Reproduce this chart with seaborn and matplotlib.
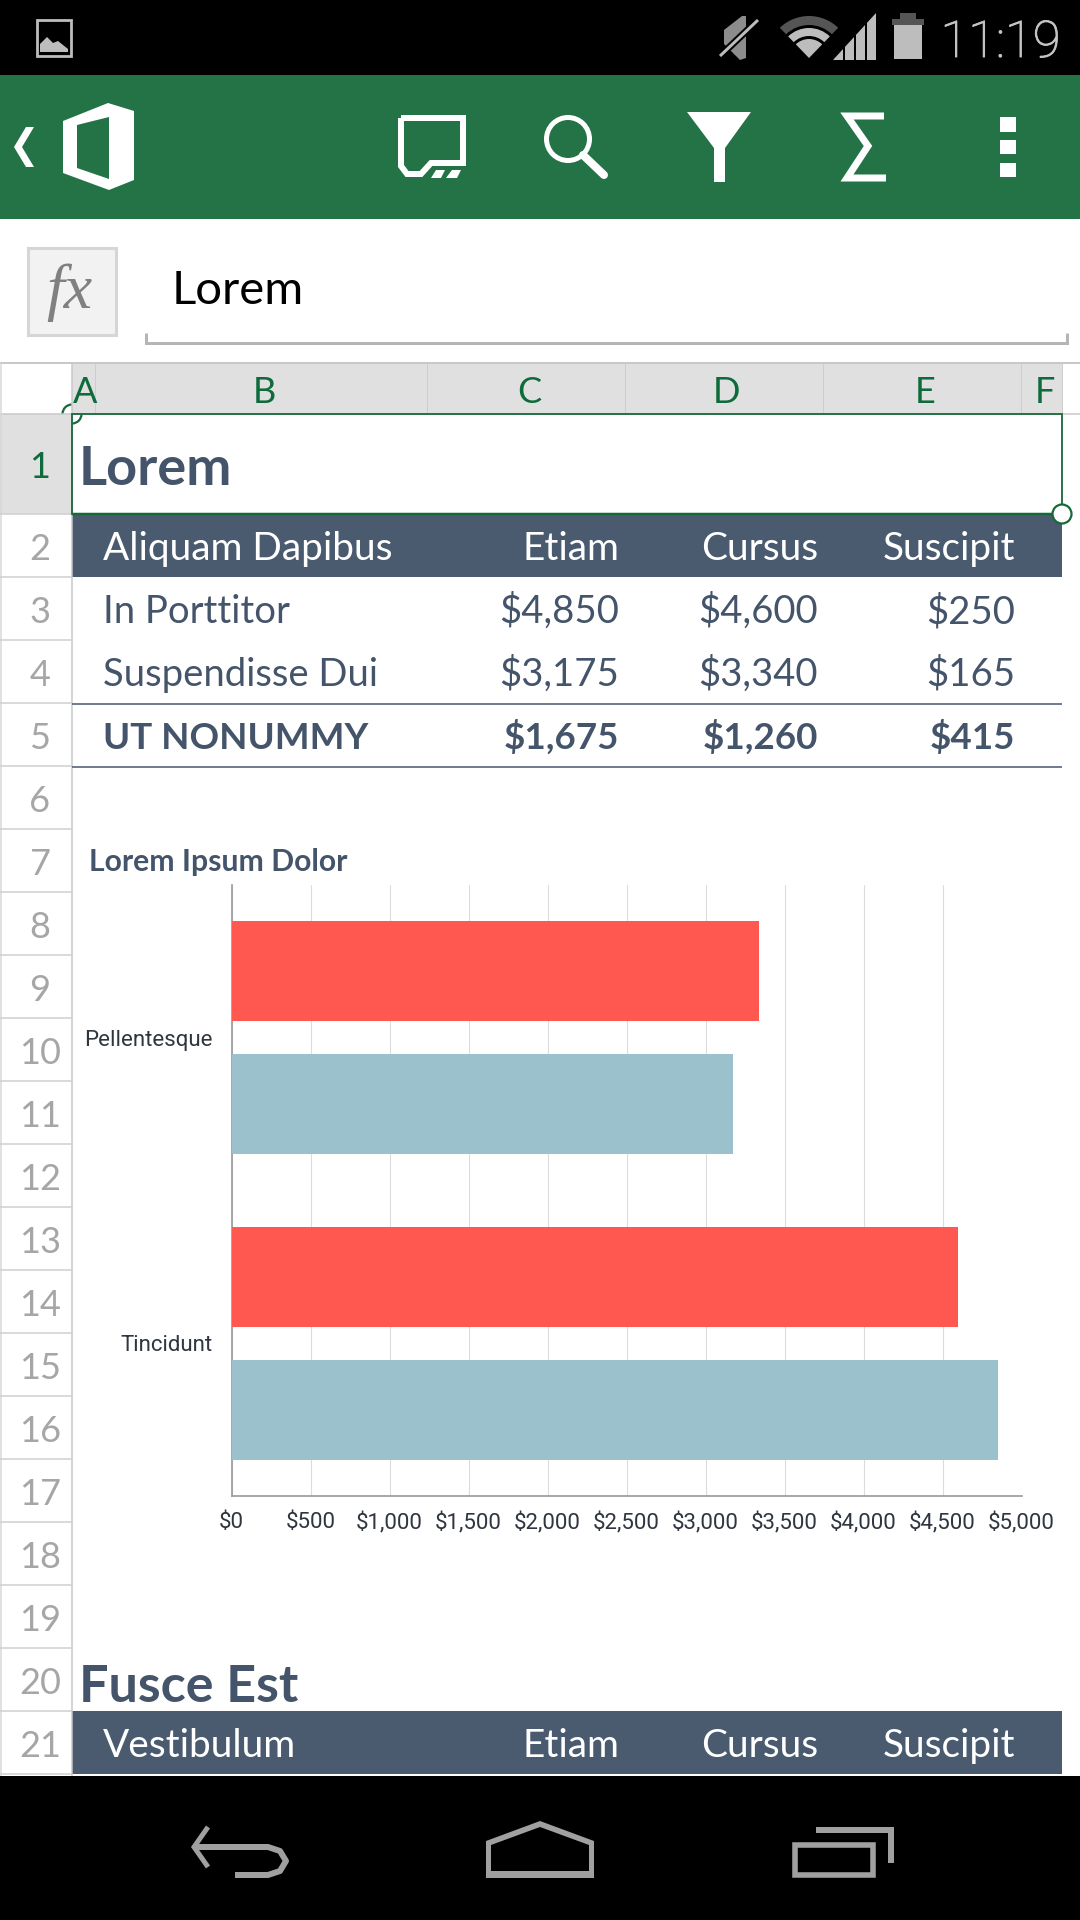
#!/usr/bin/env python3
"""Spreadsheet phone screenshot with a horizontal bar chart."""

import matplotlib
matplotlib.use("Agg")
import matplotlib.patheffects as pe
import matplotlib.pyplot as plt
import pandas as pd
import seaborn as sns
from matplotlib.patches import Circle, Polygon, Rectangle, Wedge
from matplotlib.ticker import FuncFormatter, MultipleLocator

# ---------- Data ----------
categories = ["Pellentesque", "Tincidunt"]
cursus_values = [3340, 4600]
etiam_values = [3175, 4850]
x_ticks_max = 5000
x_tick_step = 500

chart_title = "Lorem Ipsum Dolor"
sheet_title = "Lorem"
second_title = "Fusce Est"
col_letters = ["A", "B", "C", "D", "E", "F"]
value_headers = ["Etiam", "Cursus", "Suscipit"]
row_labels = ["In Porttitor", "Suspendisse Dui", "UT NONUMMY"]
row_values = [["$4,850", "$4,600", "$250"],
              ["$3,175", "$3,340", "$165"],
              ["$1,675", "$1,260", "$415"]]

# ---------- Colours ----------
GREEN = "#237347"
SEL_GREEN = "#17693A"
SLATE = "#44546A"
BAND = "#4A5B70"
RED = "#FF5850"
BLUE = "#9BC1CC"
GREY = "#A6A6A6"
CELL_LINE = "#CFCFCF"
ICON = "#BDBDBD"

sns.set_theme(style="white")
plt.rcParams["font.family"] = ["Lato", "DejaVu Sans"]

fig = plt.figure(figsize=(10.8, 19.2), dpi=100, facecolor="white")

# background axes in screen pixels for the app chrome and cells
bg = fig.add_axes([0, 0, 1, 1], zorder=0)
bg.set_xlim(0, 1080)
bg.set_ylim(1920, 0)
bg.axis("off")


def box(x0, y0, x1, y1, color, z=1):
    bg.add_patch(Rectangle((x0, y0), x1 - x0, y1 - y0, fc=color, ec="none", zorder=z))


def line(xs, ys, color, lw=1.0, z=2, cap="butt", join="miter"):
    bg.plot(xs, ys, color=color, lw=lw * 0.72, zorder=z, solid_capstyle=cap, solid_joinstyle=join)


def poly(pts, color, z=3):
    bg.add_patch(Polygon(pts, closed=True, fc=color, ec="none", zorder=z))


# ---------- Status bar ----------
box(0, 0, 1080, 75, "black")
bg.add_patch(Rectangle((37, 20), 34, 36, fc="none", ec=ICON, lw=2, zorder=3))
poly([(40, 52), (40, 44), (47, 37), (53, 43), (58, 41), (68, 49), (68, 52)], ICON)
# mute
poly([(724, 30), (742, 16), (746, 16), (746, 58), (740, 60), (728, 48), (724, 44)], "#8C8C8C")
line([720, 758], [56, 20], "black", 7, z=4)
line([720, 758], [56, 20], ICON, 3, z=5)
# wifi
for r, w, c in [(42, 9, "#555555"), (30, 8, ICON), (19, 19, ICON)]:
    bg.add_patch(Wedge((809, 58), r, 226, 314, width=w, fc=c, ec="none", zorder=3))
# signal
poly([(833, 60), (876, 13), (876, 60)], ICON)
for sx in [844, 855, 866]:
    line([sx, sx], [10, 62], "black", 2, z=4)
# battery
box(900, 13, 916, 20, "#555555", z=3)
box(892, 19, 924, 25, "#555555", z=3)
box(894, 25, 922, 59, ICON, z=3)
clock = bg.text(1061, 57, "11:19", ha="right", va="baseline", color="#C4C4C4", fontsize=36.5,
                family=["Roboto", "DejaVu Sans"], fontweight="light", zorder=3)
clock.set_path_effects([pe.withStroke(linewidth=0.7, foreground="#C4C4C4")])

# ---------- Toolbar ----------
box(0, 75, 1080, 219, GREEN)
poly([(26, 127), (34, 127), (22, 147), (34, 167), (26, 167), (14, 147)], "white")
poly([(63, 121), (108, 103), (134, 111), (134, 180), (109, 190), (63, 173)], "white")
poly([(77, 125), (109, 117), (109, 179), (77, 168)], GREEN, z=4)
line([401, 463, 463, 431, 421, 407, 401, 401], [118, 118, 163, 163, 174, 174, 166, 118], "white", 6, z=3)
poly([(436, 170), (445, 170), (441, 178), (431, 178)], "white")
poly([(452, 170), (461, 170), (457, 178), (446, 178)], "white")
bg.add_patch(Circle((568, 139), 21.5, fc="none", ec="white", lw=3.6, zorder=3))
line([583, 604], [155, 175], "white", 8, z=3, cap="round")
poly([(687, 112), (751, 112), (725, 148), (725, 182), (714, 182), (714, 148)], "white")
line([884, 847, 868, 847, 886], [116, 116, 146, 178, 178], "white", 7, z=3)
for y0, y1 in [(117, 132), (140, 154), (163, 177)]:
    box(1000, y0, 1016, y1, "white", z=3)

# ---------- Formula bar ----------
bg.add_patch(Rectangle((28, 248), 88, 87, fc="#F2F2F2", ec="#D6D6D6", lw=2.2, zorder=1))
bg.text(69, 308, "fx", ha="center", va="baseline", color="#808080", fontsize=46,
        family="Liberation Serif", style="italic", zorder=3)
bg.text(172, 304, sheet_title, ha="left", va="baseline", color="black", fontsize=34, zorder=3)
line([146, 146, 1067, 1067], [333, 343, 343, 333], "#B5B5B5", 3, join="miter")

# ---------- Grid headers ----------
col_edges = [72, 95, 427, 625, 823, 1021, 1062]
row_top = 514
row_h = 63
box(72, 363, 1062, 413, "#E0E0E0")
line([0, 1080], [363, 363], "#C8C8C8", 2)
line([0, 1080], [413.5, 413.5], "#C8C8C8", 1.5)
for xe in col_edges[1:]:
    line([xe, xe], [363, 413], "#CDCDCD", 1)
for i, letter in enumerate(col_letters):
    cx = (col_edges[i] + col_edges[i + 1]) / 2 + (2 if i == 0 else 3)
    bg.text(cx, 403, letter, ha="center", va="baseline", color="#0E6B3B", fontsize=26, zorder=3)

box(0, 414, 72, 514, "#E0E0E0")
line([72, 72], [363, 1776], "#C8C8C8", 1.5)
line([0.5, 0.5], [363, 1776], "#D8D8D8", 1.5)
line([0, 72], [514, 514], CELL_LINE, 1.5)
bg.text(40, 478, "1", ha="center", va="baseline", color="#0E6B3B", fontsize=26, zorder=3)
for n in range(2, 22):
    top = row_top + (n - 2) * row_h
    line([0, 72], [top + row_h, top + row_h], CELL_LINE, 1.5)
    bg.text(40, top + 46, str(n), ha="center", va="baseline", color=GREY, fontsize=26, zorder=3)

# ---------- Table ----------
box(72, 514, 1062, 577, BAND)
box(72, 1711, 1062, 1774, BAND)
value_right = [619, 818, 1015]
bg.text(79, 485, sheet_title, ha="left", va="baseline", color=SLATE, fontsize=39, fontweight="bold", zorder=3)
bg.text(79, 1702, second_title, ha="left", va="baseline", color=SLATE, fontsize=37.5, fontweight="bold", zorder=3)
for base, first in [(560, "Aliquam Dapibus"), (1757, "Vestibulum")]:
    bg.text(103, base, first, ha="left", va="baseline", color="white", fontsize=27.9, zorder=3)
    for xr, head in zip(value_right, value_headers):
        bg.text(xr, base, head, ha="right", va="baseline", color="white", fontsize=27.9, zorder=3)
for i, (label, vals) in enumerate(zip(row_labels, row_values)):
    weight = "bold" if i == 2 else "normal"
    size = 26.5 if i == 2 else 27.5
    base = 623 + i * row_h
    bg.text(103, base, label, ha="left", va="baseline", color=SLATE, fontsize=size, fontweight=weight, zorder=3)
    for xr, val in zip(value_right, vals):
        bg.text(xr, base, val, ha="right", va="baseline", color=SLATE, fontsize=size, fontweight=weight, zorder=3)
line([72, 1062], [703.5, 703.5], SLATE, 1.5)
line([72, 1062], [766.5, 766.5], SLATE, 1.5)

# ---------- Selection ----------
bg.add_patch(Rectangle((72, 414), 990, 100, fc="none", ec=SEL_GREEN, lw=1.3, zorder=5))
line([72, 1062], [514, 514], SEL_GREEN, 2.5, z=5)
bg.add_patch(Circle((1062, 514), 9.5, fc="white", ec=SEL_GREEN, lw=1.6, zorder=6))
bg.add_patch(Circle((72, 414), 9.5, fc="white", ec=SEL_GREEN, lw=1.6, zorder=0.5))

# ---------- Chart ----------
bg.text(89, 871, chart_title, ha="left", va="baseline", color=SLATE, fontsize=21.7, fontweight="bold", zorder=3)

df = pd.DataFrame({
    "category": categories * 2,
    "series": ["Cursus"] * len(categories) + ["Etiam"] * len(categories),
    "value": cursus_values + etiam_values,
})

ax = fig.add_axes([231.5 / 1080, 1 - 1496 / 1920, 790 / 1080, 611 / 1920], zorder=1)
ax.patch.set_alpha(0)
sns.barplot(data=df, y="category", x="value", hue="series", order=categories,
            palette=[RED, BLUE], saturation=1, width=0.87, gap=0.248, linewidth=0,
            legend=False, ax=ax, zorder=3)
ax.set_xlim(0, x_ticks_max)
ax.xaxis.set_major_locator(MultipleLocator(x_tick_step))
ax.xaxis.set_major_formatter(FuncFormatter(lambda v, _: f"${v:,.0f}"))
ax.set_xlabel("")
ax.set_ylabel("")
ax.grid(axis="x", color="#DCDCDC", lw=0.8)
ax.grid(axis="y", visible=False)
ax.set_axisbelow(True)
for side in ["top", "right"]:
    ax.spines[side].set_visible(False)
for side in ["left", "bottom"]:
    ax.spines[side].set_color("#999999")
    ax.spines[side].set_linewidth(1.2)
ax.tick_params(axis="x", length=0, pad=11.7, labelsize=16, labelcolor="#2F3640")
ax.tick_params(axis="y", length=0, pad=13.5, labelsize=16, labelcolor="#2F3640")
for lab in ax.get_xticklabels() + ax.get_yticklabels():
    lab.set_family(["Roboto", "DejaVu Sans"])

# ---------- Nav bar ----------
box(0, 1776, 1080, 1920, "black")
box(0, 1774, 1080, 1776, "white")
NAV = "#A0A0A0"
line([208, 194, 208], [1827, 1847, 1867], NAV, 5, z=3)
line([194, 268, 280, 286, 280, 268, 235], [1847, 1847, 1851, 1861, 1871, 1875, 1875], NAV, 6, z=3, join="round")
poly([(486, 1841), (540, 1821), (594, 1841), (594, 1878), (486, 1878)], NAV)
poly([(491, 1845), (540, 1827), (589, 1845), (589, 1871), (491, 1871)], "black", z=4)
bg.add_patch(Rectangle((795, 1845), 78, 30, fc="none", ec=NAV, lw=4, zorder=3))
line([816, 891, 891], [1830, 1830, 1863], NAV, 6, z=3)

fig.savefig("out.png", dpi=100, facecolor="white")
print("Saved out.png")
